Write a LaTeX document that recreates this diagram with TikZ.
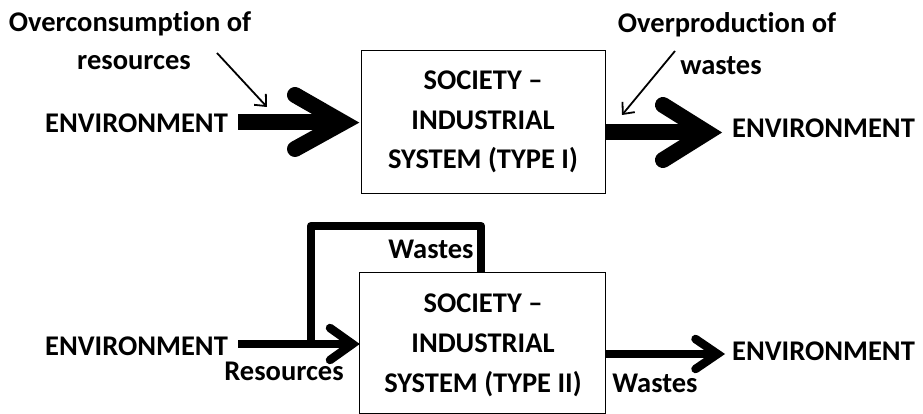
\documentclass[tikz,border=0pt]{standalone}
\usepackage{fontspec}
\setmainfont[Ligatures={NoCommon,NoRare,NoDiscretionary},RawFeature={-liga;-dlig;-calt}]{Carlito}
\usetikzlibrary{arrows.meta}
\begin{document}
\begin{tikzpicture}[x=1pt,y=-1pt,
  lbl/.style={inner sep=0pt,anchor=base,font=\fontsize{28.5}{40}\selectfont\bfseries},
  sysbox/.style={draw,line width=1pt,inner sep=0pt},
  fatline/.style={line width=16pt},
  fathead/.style={line width=16pt,line cap=round,miter limit=20},
  midline/.style={line width=8.5pt,line join=round},
  midhead/.style={line width=8.5pt,line cap=round,miter limit=20},
  thinarrow/.style={line width=1.8pt,-{Straight Barb[length=9pt,width=16pt,line width=1.8pt]}}]
\useasboundingbox (0,0) rectangle (923,414);
% boxes
\node[sysbox,minimum width=244pt,minimum height=143pt] (box1) at (483,122.5) {};
\node[sysbox,minimum width=246pt,minimum height=141pt] (box2) at (482,343) {};
% box texts
\node[lbl] (b1a) at (483,90) {SOCIETY –};
\node[lbl] (b1b) at (483,130) {INDUSTRIAL};
\node[lbl] (b1c) at (483,169) {SYSTEM (TYPE I)};
\node[lbl] (b2a) at (483,312) {SOCIETY –};
\node[lbl] (b2b) at (483,352) {INDUSTRIAL};
\node[lbl] (b2c) at (483,392) {SYSTEM (TYPE II)};
% labels top
\node[lbl] (oc1) at (130,32) {Overconsumpt\kern0pt ion of};
\node[lbl] (oc2) at (134,70) {resources};
\node[lbl] (envtl) at (136.5,133) {ENVIRONMENT};
\node[lbl] (op1) at (727,33) {Overproduct\kern0pt ion of};
\node[lbl] (op2) at (721,75) {wastes};
\node[lbl] (envtr) at (823.5,138) {ENVIRONMENT};
% labels bottom
\node[lbl] (wtop) at (431,258) {Wastes};
\node[lbl] (envbl) at (136.5,355) {ENVIRONMENT};
\node[lbl] (res) at (284,380) {Resources};
\node[lbl] (wbot) at (655,392) {Wastes};
\node[lbl] (envbr) at (823.5,360) {ENVIRONMENT};
% coordinates top arrows
\coordinate (a1s) at (238,122.5);
\coordinate (a1t) at (343,122.5);
\coordinate (a1u) at (295,95);
\coordinate (a1d) at (295,149);
\coordinate (a2s) at (box1.east |- 0,132.5);
\coordinate (a2t) at (707,132.5);
\coordinate (a2u) at (663,105);
\coordinate (a2d) at (663,160);
\draw[fatline] (a1s) -- (a1t);
\draw[fathead] (a1u) -- (a1t) -- (a1d);
\draw[fatline] (a2s) -- (a2t);
\draw[fathead] (a2u) -- (a2t) -- (a2d);
% thin pointer arrows
\coordinate (p1s) at (217,53);
\coordinate (p1t) at (267,107);
\coordinate (p2s) at (675,51);
\coordinate (p2t) at (622,115);
\draw[thinarrow] (p1s) -- (p1t);
\draw[thinarrow] (p2s) -- (p2t);
% bottom arrows
\coordinate (b1s) at (238,344);
\coordinate (b1t) at (352.5,344);
\coordinate (b1u) at (330,328);
\coordinate (b1d) at (330,360);
\coordinate (b2s) at (box2.east |- 0,354);
\coordinate (b2t) at (717.5,354);
\coordinate (b2u) at (695.5,339);
\coordinate (b2d) at (695.5,369);
\draw[midline] (b1s) -- (b1t);
\draw[midhead] (b1u) -- (b1t) -- (b1d);
\draw[midline] (b2s) -- (b2t);
\draw[midhead] (b2u) -- (b2t) -- (b2d);
% feedback loop
\coordinate (fb0) at (311,344);
\coordinate (fb1) at (311,226);
\coordinate (fb2) at (481,226);
\coordinate (fb3) at (box2.north -| 481,0);
\draw[midline] (fb0) -- (fb1) -- (fb2) -- (fb3);
\end{tikzpicture}
\end{document}
